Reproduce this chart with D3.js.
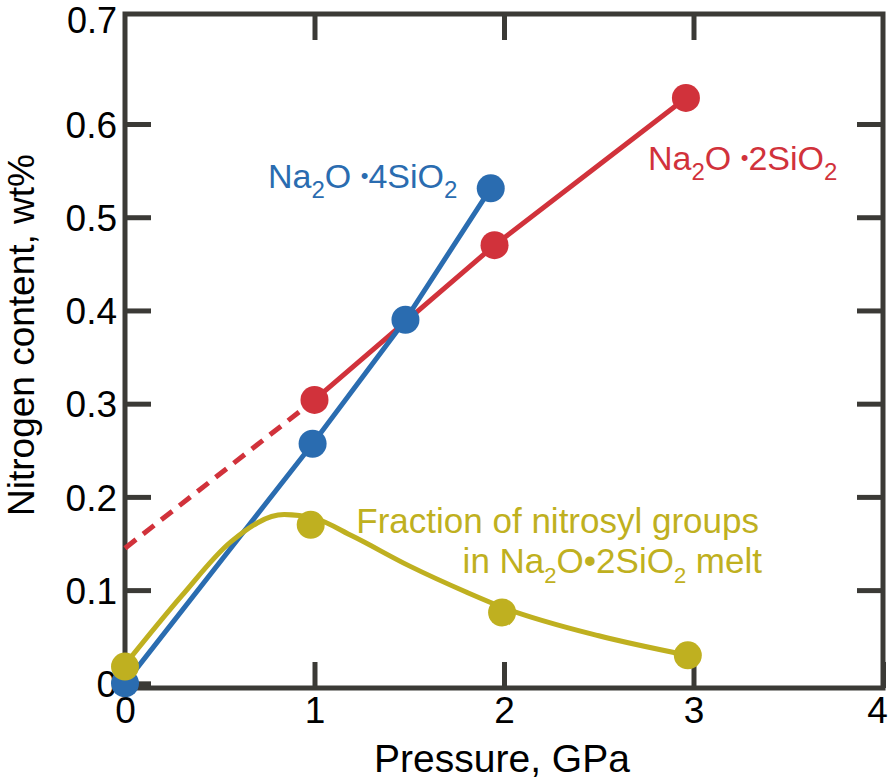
<!DOCTYPE html>
<html>
<head>
<meta charset="utf-8">
<script src="https://cdn.jsdelivr.net/npm/d3@7/dist/d3.min.js"></script>
<style>
  html, body { margin: 0; padding: 0; background: #fff; }
  svg { display: block; font-family: "Liberation Sans", Arial, Helvetica, sans-serif; }
</style>
</head>
<body>
<svg id="chart" width="889" height="784"></svg>
<script>
// ---- data ----
const xTicks = [0, 1, 2, 3, 4];
const xTickLabels = ["0", "1", "2", "3", "4"];
const yTicks = [0, 0.1, 0.2, 0.3, 0.4, 0.5, 0.6];
const yTickLabels = ["0", "0.1", "0.2", "0.3", "0.4", "0.5", "0.6"];
const yTopLabel = "0.7";

// Na2O·4SiO2 (blue)
const ns4P = [0, 0.99, 1.48, 1.93];
const ns4N = [0.0, 0.257, 0.390, 0.531];
// Na2O·2SiO2 (red)
const ns2P = [1.0, 1.95, 2.96];
const ns2N = [0.304, 0.470, 0.628];
// red dashed extrapolation to 0 GPa
const ns2ExtP = [0, 1.0];
const ns2ExtN = [0.145, 0.304];
// fraction of nitrosyl groups (yellow)
const nitP = [0, 0.98, 1.99, 2.97];
const nitN = [0.018, 0.170, 0.076, 0.030];
// smooth trend curve for nitrosyl fraction
const nitCurveP = [0, 0.3, 0.56, 0.84, 1.0, 1.2, 1.5, 1.8, 2.0, 2.5, 2.97];
const nitCurveN = [0.020, 0.094, 0.152, 0.181, 0.177, 0.158, 0.126, 0.098, 0.081, 0.051, 0.030];

// ---- styles ----
const BLUE = "#2a6cb0", RED = "#d1323b", YEL = "#bfb020", FRAME = "#3b3a36";

const svg = d3.select("#chart");
const x = d3.scaleLinear().domain([0, 4]).range([125, 883]);
const y = d3.scaleLinear().domain([-0.005, 0.718]).range([688, 14]);
const [x0, x1] = x.range();
const [yb, yt] = y.range();

const zip = (a, b) => a.map((v, i) => [v, b[i]]);
const line = d3.line().x(d => x(d[0])).y(d => y(d[1]));

// axes
const gBottom = svg.append("g").attr("transform", `translate(0,${yb})`)
  .call(d3.axisBottom(x).tickValues(xTicks).tickFormat((d, i) => xTickLabels[i])
    .tickSizeInner(-26).tickSizeOuter(0).tickPadding(9));
const gTop = svg.append("g").attr("transform", `translate(0,${yt})`)
  .call(d3.axisTop(x).tickValues(xTicks.slice(1, -1)).tickFormat("")
    .tickSizeInner(-26).tickSizeOuter(0));
const gLeft = svg.append("g").attr("transform", `translate(${x0},0)`)
  .call(d3.axisLeft(y).tickValues(yTicks).tickFormat((d, i) => yTickLabels[i])
    .tickSizeInner(-26).tickSizeOuter(0).tickPadding(8));
const gRight = svg.append("g").attr("transform", `translate(${x1},0)`)
  .call(d3.axisRight(y).tickValues(yTicks.slice(1)).tickFormat("")
    .tickSizeInner(-26).tickSizeOuter(0));

[gBottom, gTop, gLeft, gRight].forEach(g => {
  g.select(".domain").remove();
  g.selectAll(".tick line").attr("stroke", FRAME).attr("stroke-width", 5);
  g.selectAll(".tick text").attr("fill", "#000").attr("font-size", 37)
    .attr("font-family", "'Liberation Sans', Arial, Helvetica, sans-serif");
});
gLeft.selectAll(".tick text").attr("dy", "0.36em");
gBottom.selectAll(".tick text").filter(d => d === 4).attr("dx", -6);

svg.append("text").attr("x", x0 - 8).attr("y", yt).attr("dy", "0.52em")
  .attr("text-anchor", "end").attr("font-size", 36).text(yTopLabel);

// frame
svg.append("rect").attr("x", x0).attr("y", yt).attr("width", x1 - x0).attr("height", yb - yt)
  .attr("fill", "none").attr("stroke", FRAME).attr("stroke-width", 5);

// axis titles
svg.append("text").attr("x", 502).attr("y", 772).attr("text-anchor", "middle")
  .attr("font-size", 39).text("Pressure, GPa");
svg.append("text").attr("transform", "translate(34,335) rotate(-90)")
  .attr("text-anchor", "middle").attr("font-size", 37).text("Nitrogen content, wt%");

// lines
svg.append("path").datum(zip(ns2ExtP, ns2ExtN)).attr("d", line).attr("fill", "none")
  .attr("stroke", RED).attr("stroke-width", 5).attr("stroke-dasharray", "14,9");
svg.append("path").datum(zip(ns2P, ns2N)).attr("d", line).attr("fill", "none")
  .attr("stroke", RED).attr("stroke-width", 5);
svg.append("path").datum(zip(ns4P, ns4N)).attr("d", line).attr("fill", "none")
  .attr("stroke", BLUE).attr("stroke-width", 5);
svg.append("path").datum(zip(nitCurveP, nitCurveN))
  .attr("d", line.curve(d3.curveMonotoneX)).attr("fill", "none")
  .attr("stroke", YEL).attr("stroke-width", 5);

// dots
const dots = (P, N, c) => svg.append("g").selectAll("circle").data(zip(P, N)).join("circle")
  .attr("cx", d => x(d[0])).attr("cy", d => y(d[1])).attr("r", 14).attr("fill", c);
dots(ns2P, ns2N, RED);
dots(ns4P, ns4N, BLUE);
dots(nitP, nitN, YEL);

// labels
function formula(xp, yp, color, n, fs, sub, bulletSize, bulletDy, anchor, prefix, suffix, spaceBefore) {
  const t = svg.append("text").attr("x", xp).attr("y", yp).attr("fill", color)
    .attr("font-size", fs).attr("text-anchor", anchor || "start");
  if (prefix) t.append("tspan").text(prefix);
  t.append("tspan").text("Na");
  t.append("tspan").attr("font-size", sub).attr("dy", 10).text("2");
  t.append("tspan").attr("dy", -10).text(spaceBefore ? "O\u00a0" : "O");
  t.append("tspan").attr("font-size", bulletSize).attr("dy", -bulletDy).text("\u2022");
  t.append("tspan").attr("dy", bulletDy).text(n + "SiO");
  t.append("tspan").attr("font-size", sub).attr("dy", 10).text("2");
  if (suffix) t.append("tspan").attr("dy", -10).text(suffix);
  return t;
}
formula(268, 188, BLUE, "4", 34, 24, 22, 5, "start", null, null, true);
formula(648, 170, RED, "2", 34, 24, 22, 5, "start", null, null, true);

svg.append("text").attr("x", 759).attr("y", 533).attr("fill", YEL).attr("font-size", 35)
  .attr("text-anchor", "end").text("Fraction of nitrosyl groups");
formula(762, 573, YEL, "2", 35, 22, 35, 0, "end", "in ", " melt", false);
</script>
</body>
</html>
